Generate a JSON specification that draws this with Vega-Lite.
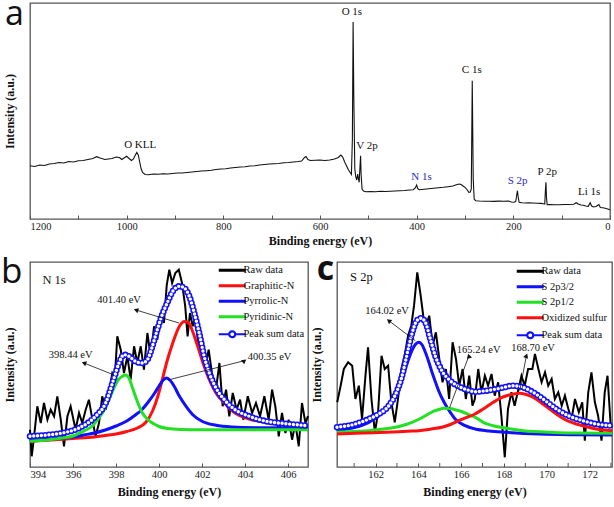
{
  "$schema": "https://vega.github.io/schema/vega-lite/v6.json",
  "padding": {"left": 0, "top": -3, "right": 0, "bottom": 0},
  "bounds": "flush",
  "spacing": 43,
  "background": "white",
  "config": {
    "view": {"stroke": "#555555", "strokeWidth": 1.3},
    "axis": {"grid": false, "domain": false, "labelOverlap": false, "labelFont": "Liberation Serif, Times New Roman, serif", "labelFontSize": 10.5, "labelColor": "#222222", "titleFont": "Liberation Serif, Times New Roman, serif", "titleFontSize": 12, "titleFontWeight": "bold", "titleColor": "#111111", "tickColor": "#555555", "tickSize": -4, "tickWidth": 1},
    "legend": {"orient": "top-right", "offset": 3, "padding": 0, "symbolType": "stroke", "symbolSize": 729, "symbolStrokeWidth": 3, "labelFont": "Liberation Serif, Times New Roman, serif", "labelFontSize": 10.5, "labelColor": "#111111", "rowPadding": 2.5, "labelOffset": 6},
    "text": {"font": "Liberation Serif, Times New Roman, serif", "fontSize": 10.5, "color": "#111111"}
  },
  "datasets": {
    "survey": [
      {"e":1200,"i":53.3},{"e":1190,"i":52.5},{"e":1180,"i":54},{"e":1170,"i":53.5},{"e":1160,"i":55},{"e":1150,"i":55.5},{"e":1140,"i":56.5},{"e":1130,"i":56},{"e":1120,"i":57.5},{"e":1110,"i":57},{"e":1100,"i":58.3},{"e":1090,"i":58.5},{"e":1080,"i":59.5},{"e":1070,"i":60.5},{"e":1062,"i":62.3},{"e":1055,"i":61},{"e":1045,"i":59.5},{"e":1038,"i":60},{"e":1030,"i":60.5},{"e":1022,"i":62},{"e":1015,"i":61.5},{"e":1010,"i":59.5},{"e":1004,"i":61.5},{"e":1000,"i":62.7},{"e":995,"i":60.5},{"e":990,"i":58.5},{"e":986,"i":60},{"e":982,"i":64},{"e":979,"i":66.7},{"e":976,"i":64},{"e":973,"i":57},{"e":970,"i":50},{"e":967,"i":46.5},{"e":962,"i":44.5},{"e":955,"i":44.3},{"e":945,"i":45},{"e":935,"i":44.7},{"e":925,"i":45.3},{"e":915,"i":45},{"e":905,"i":45.5},{"e":895,"i":46},{"e":885,"i":46},{"e":875,"i":46.5},{"e":865,"i":47},{"e":855,"i":47.5},{"e":845,"i":48},{"e":835,"i":48.3},{"e":825,"i":48.7},{"e":815,"i":49.5},{"e":805,"i":50},{"e":795,"i":50.3},{"e":785,"i":51},{"e":775,"i":51.5},{"e":765,"i":52},{"e":755,"i":52.3},{"e":745,"i":53},{"e":735,"i":53.3},{"e":725,"i":54},{"e":715,"i":54.5},{"e":705,"i":55},{"e":695,"i":55.3},{"e":685,"i":55.5},{"e":675,"i":56.3},{"e":665,"i":56.5},{"e":655,"i":57},{"e":645,"i":57.5},{"e":638,"i":58},{"e":632,"i":61.5},{"e":629,"i":62.5},{"e":625,"i":59.5},{"e":620,"i":58.5},{"e":610,"i":58.7},{"e":600,"i":59},{"e":590,"i":58.5},{"e":580,"i":59},{"e":570,"i":60},{"e":562,"i":61.5},{"e":557,"i":64},{"e":553,"i":62},{"e":549,"i":57},{"e":545,"i":53},{"e":541,"i":49},{"e":537,"i":46},{"e":535,"i":44.5},{"e":533,"i":80},{"e":531.5,"i":197},{"e":530,"i":120},{"e":528,"i":50},{"e":526,"i":42},{"e":524,"i":39},{"e":522,"i":45},{"e":520.5,"i":40},{"e":519,"i":36.7},{"e":517,"i":55},{"e":516,"i":63.3},{"e":515,"i":45},{"e":513,"i":30},{"e":510,"i":28},{"e":505,"i":27.3},{"e":495,"i":27.5},{"e":485,"i":27.3},{"e":475,"i":27.7},{"e":465,"i":27.5},{"e":455,"i":27.8},{"e":445,"i":28},{"e":435,"i":28.3},{"e":425,"i":28.5},{"e":415,"i":29},{"e":407,"i":29.3},{"e":403,"i":31},{"e":400,"i":34},{"e":398,"i":30.5},{"e":395,"i":29.3},{"e":385,"i":29.8},{"e":375,"i":30.2},{"e":365,"i":30.7},{"e":355,"i":31.3},{"e":345,"i":31.7},{"e":335,"i":32.3},{"e":325,"i":33},{"e":318,"i":34.3},{"e":312,"i":35},{"e":308,"i":34.5},{"e":304,"i":33},{"e":300,"i":31.7},{"e":296,"i":29.5},{"e":292,"i":26.7},{"e":289,"i":27},{"e":287,"i":30},{"e":285,"i":138.3},{"e":283,"i":40},{"e":281,"i":20},{"e":278,"i":18.3},{"e":270,"i":18},{"e":260,"i":17.8},{"e":250,"i":17.7},{"e":240,"i":17.6},{"e":230,"i":17.9},{"e":220,"i":17.8},{"e":210,"i":18},{"e":204,"i":17},{"e":198,"i":16.7},{"e":195,"i":17.5},{"e":193,"i":24},{"e":191.5,"i":28.3},{"e":190,"i":22},{"e":188,"i":16.7},{"e":182,"i":16.3},{"e":175,"i":16},{"e":168,"i":16.3},{"e":160,"i":16},{"e":150,"i":15.7},{"e":143,"i":15.6},{"e":138,"i":15.3},{"e":135,"i":15},{"e":133.5,"i":30},{"e":132.5,"i":36.7},{"e":131.5,"i":22},{"e":130,"i":14.3},{"e":125,"i":14.5},{"e":115,"i":14.3},{"e":105,"i":14.3},{"e":95,"i":14.5},{"e":85,"i":14.5},{"e":75,"i":14.7},{"e":70,"i":16.3},{"e":66,"i":15},{"e":60,"i":14},{"e":55,"i":13.7},{"e":50,"i":13},{"e":45,"i":12.7},{"e":41,"i":16.3},{"e":38,"i":13},{"e":34,"i":12},{"e":29,"i":12.5},{"e":23,"i":14.5},{"e":20,"i":11.5},{"e":15,"i":11.3},{"e":10,"i":10.7},{"e":5,"i":10},{"e":0,"i":9.3}
    ],
    "survey_labels": [
      {"e":972,"i":74,"t":"O KLL"},{"e":534,"i":207,"t":"O 1s"},{"e":503,"i":72.7,"t":"V 2p"},{"e":390,"i":42.3,"t":"N 1s"},{"e":286,"i":149,"t":"C 1s"},{"e":191,"i":38.3,"t":"S 2p"},{"e":130,"i":47.3,"t":"P 2p"},{"e":43,"i":27.3,"t":"Li 1s"}
    ],
    "panel_a": [{"e":1251.7,"i":194,"t":"a"}],
    "panel_b": [{"e":392.65,"i":185,"t":"b"}],
    "panel_c": [{"e":159.25,"i":185,"t":"c"}],
    "c_minor": [{"e":161,"y0":-2,"y1":2},{"e":163,"y0":-2,"y1":2},{"e":165,"y0":-2,"y1":2},{"e":167,"y0":-2,"y1":2},{"e":169,"y0":-2,"y1":2},{"e":171,"y0":-2,"y1":2},{"e":173,"y0":-2,"y1":2}],
    "n_raw": [
      {"e":394.0,"i":38.3},{"e":394.08,"i":11.7},{"e":394.19,"i":31.7},{"e":394.34,"i":61.7},{"e":394.5,"i":45},{"e":394.65,"i":65},{"e":394.81,"i":48.3},{"e":394.96,"i":58.3},{"e":395.12,"i":51.7},{"e":395.27,"i":71.7},{"e":395.43,"i":48.3},{"e":395.58,"i":21.7},{"e":395.74,"i":51.7},{"e":395.89,"i":61.7},{"e":396.12,"i":38.3},{"e":396.28,"i":55},{"e":396.43,"i":45},{"e":396.59,"i":58.3},{"e":396.74,"i":68.3},{"e":396.9,"i":48.3},{"e":397.05,"i":31.7},{"e":397.21,"i":45},{"e":397.36,"i":71.7},{"e":397.52,"i":58.3},{"e":397.67,"i":75},{"e":397.83,"i":95},{"e":397.95,"i":91.7},{"e":398.06,"i":131.7},{"e":398.22,"i":118.3},{"e":398.37,"i":95},{"e":398.53,"i":111.7},{"e":398.68,"i":88.3},{"e":398.84,"i":121.7},{"e":398.99,"i":105},{"e":399.15,"i":121.7},{"e":399.3,"i":98.3},{"e":399.46,"i":135},{"e":399.61,"i":111.7},{"e":399.77,"i":141.7},{"e":399.92,"i":128.3},{"e":400.08,"i":155},{"e":400.23,"i":145},{"e":400.36,"i":183},{"e":400.48,"i":198.3},{"e":400.61,"i":185},{"e":400.76,"i":195},{"e":400.92,"i":198.3},{"e":401.07,"i":185},{"e":401.22,"i":161.7},{"e":401.33,"i":131.7},{"e":401.44,"i":155},{"e":401.57,"i":141.7},{"e":401.69,"i":151.7},{"e":401.85,"i":118.3},{"e":402.0,"i":128.3},{"e":402.16,"i":101.7},{"e":402.31,"i":118.3},{"e":402.46,"i":95},{"e":402.65,"i":78.3},{"e":402.81,"i":105},{"e":402.96,"i":61.7},{"e":403.12,"i":78.3},{"e":403.27,"i":51.7},{"e":403.43,"i":75},{"e":403.61,"i":58.3},{"e":403.77,"i":68.3},{"e":403.92,"i":48.3},{"e":404.13,"i":71.7},{"e":404.33,"i":55},{"e":404.51,"i":65},{"e":404.7,"i":51.7},{"e":404.9,"i":71.7},{"e":405.1,"i":48.3},{"e":405.26,"i":78.3},{"e":405.41,"i":61.7},{"e":405.57,"i":31.7},{"e":405.72,"i":55},{"e":405.88,"i":35},{"e":406.03,"i":48.3},{"e":406.19,"i":28.3},{"e":406.34,"i":45},{"e":406.5,"i":21.7},{"e":406.65,"i":65},{"e":406.81,"i":45},{"e":406.93,"i":52}
    ],
    "n_fit": [
      {"s":"Graphitic-N","e":394.0,"i":26.7},{"s":"Graphitic-N","e":395.0,"i":28},{"s":"Graphitic-N","e":396.0,"i":29.5},{"s":"Graphitic-N","e":397.0,"i":31},{"s":"Graphitic-N","e":397.5,"i":32.5},{"s":"Graphitic-N","e":398.0,"i":34},{"s":"Graphitic-N","e":398.5,"i":36.5},{"s":"Graphitic-N","e":399.0,"i":40},{"s":"Graphitic-N","e":399.4,"i":46},{"s":"Graphitic-N","e":399.7,"i":57},{"s":"Graphitic-N","e":399.95,"i":72},{"s":"Graphitic-N","e":400.15,"i":88},{"s":"Graphitic-N","e":400.35,"i":105},{"s":"Graphitic-N","e":400.64,"i":125},{"s":"Graphitic-N","e":400.95,"i":141.7},{"s":"Graphitic-N","e":401.18,"i":146.5},{"s":"Graphitic-N","e":401.35,"i":146},{"s":"Graphitic-N","e":401.5,"i":140},{"s":"Graphitic-N","e":401.8,"i":121.7},{"s":"Graphitic-N","e":402.1,"i":101.7},{"s":"Graphitic-N","e":402.34,"i":88.3},{"s":"Graphitic-N","e":402.65,"i":75},{"s":"Graphitic-N","e":403.04,"i":65},{"s":"Graphitic-N","e":403.43,"i":56.7},{"s":"Graphitic-N","e":404.2,"i":49},{"s":"Graphitic-N","e":405.0,"i":45.7},{"s":"Graphitic-N","e":405.9,"i":43.3},{"s":"Graphitic-N","e":406.93,"i":41.7},
      {"s":"Pyrrolic-N","e":394.0,"i":27.5},{"s":"Pyrrolic-N","e":395.0,"i":29},{"s":"Pyrrolic-N","e":396.0,"i":31},{"s":"Pyrrolic-N","e":396.5,"i":33},{"s":"Pyrrolic-N","e":397.0,"i":35},{"s":"Pyrrolic-N","e":397.5,"i":38},{"s":"Pyrrolic-N","e":398.0,"i":42},{"s":"Pyrrolic-N","e":398.5,"i":47},{"s":"Pyrrolic-N","e":398.9,"i":53},{"s":"Pyrrolic-N","e":399.2,"i":58.3},{"s":"Pyrrolic-N","e":399.5,"i":66},{"s":"Pyrrolic-N","e":399.8,"i":75},{"s":"Pyrrolic-N","e":400.0,"i":82},{"s":"Pyrrolic-N","e":400.2,"i":88},{"s":"Pyrrolic-N","e":400.35,"i":90},{"s":"Pyrrolic-N","e":400.5,"i":88},{"s":"Pyrrolic-N","e":400.7,"i":82},{"s":"Pyrrolic-N","e":400.95,"i":71.7},{"s":"Pyrrolic-N","e":401.26,"i":61.7},{"s":"Pyrrolic-N","e":401.57,"i":53.3},{"s":"Pyrrolic-N","e":402.0,"i":46.7},{"s":"Pyrrolic-N","e":402.65,"i":42.7},{"s":"Pyrrolic-N","e":403.4,"i":41},{"s":"Pyrrolic-N","e":404.5,"i":40.3},{"s":"Pyrrolic-N","e":406.93,"i":40},
      {"s":"Pyridinic-N","e":394.0,"i":26.7},{"s":"Pyridinic-N","e":394.5,"i":27.5},{"s":"Pyridinic-N","e":395.0,"i":28.5},{"s":"Pyridinic-N","e":395.5,"i":30},{"s":"Pyridinic-N","e":396.0,"i":32},{"s":"Pyridinic-N","e":396.3,"i":35},{"s":"Pyridinic-N","e":396.6,"i":38},{"s":"Pyridinic-N","e":396.9,"i":42},{"s":"Pyridinic-N","e":397.2,"i":50},{"s":"Pyridinic-N","e":397.45,"i":58},{"s":"Pyridinic-N","e":397.7,"i":70},{"s":"Pyridinic-N","e":397.9,"i":80},{"s":"Pyridinic-N","e":398.1,"i":88},{"s":"Pyridinic-N","e":398.3,"i":91.7},{"s":"Pyridinic-N","e":398.44,"i":93},{"s":"Pyridinic-N","e":398.6,"i":90},{"s":"Pyridinic-N","e":398.8,"i":78},{"s":"Pyridinic-N","e":399.0,"i":66},{"s":"Pyridinic-N","e":399.2,"i":56},{"s":"Pyridinic-N","e":399.45,"i":49},{"s":"Pyridinic-N","e":399.7,"i":45},{"s":"Pyridinic-N","e":400.0,"i":41.5},{"s":"Pyridinic-N","e":400.4,"i":39.5},{"s":"Pyridinic-N","e":401.0,"i":38.6},{"s":"Pyridinic-N","e":402.0,"i":38.3},{"s":"Pyridinic-N","e":404.0,"i":38.3},{"s":"Pyridinic-N","e":406.93,"i":38.3}
    ],
    "n_sum": [
      {"e":394.0,"i":31.7},{"e":394.8,"i":33},{"e":395.5,"i":35},{"e":396.28,"i":40},{"e":397.05,"i":51.7},{"e":397.52,"i":65},{"e":397.91,"i":90},{"e":398.14,"i":105},{"e":398.37,"i":113.3},{"e":398.6,"i":111.7},{"e":398.9,"i":106.7},{"e":399.22,"i":105},{"e":399.46,"i":108.3},{"e":399.69,"i":121.7},{"e":399.92,"i":138.3},{"e":400.15,"i":153.3},{"e":400.38,"i":165},{"e":400.64,"i":176.7},{"e":400.95,"i":181.7},{"e":401.18,"i":180},{"e":401.41,"i":171.7},{"e":401.64,"i":155},{"e":401.87,"i":135},{"e":402.1,"i":111.7},{"e":402.34,"i":95},{"e":402.65,"i":80},{"e":403.04,"i":68.3},{"e":403.43,"i":60},{"e":404.2,"i":51.7},{"e":405.0,"i":46.7},{"e":405.9,"i":44.3},{"e":406.93,"i":42.3}
    ],
    "n_text": [
      {"e":398.14,"i":168,"t":"401.40 eV"},{"e":395.89,"i":113.3,"t":"398.44 eV"},{"e":405.14,"i":111,"t":"400.35 eV"}
    ],
    "n_arrow": [
      {"t":"401.40 eV","e":400.93,"i":145,"e2":398.93,"i2":158},{"t":"398.44 eV","e":397.91,"i":93,"e2":396.51,"i2":105},{"t":"400.35 eV","e":400.42,"i":88,"e2":403.91,"i2":107}
    ],
    "n_name": [{"e":395.12,"i":188.3,"t":"N 1s"}],
    "s_raw": [
      {"e":160.21,"i":62.7},{"e":160.37,"i":79.3},{"e":160.52,"i":96},{"e":160.72,"i":102.7},{"e":160.91,"i":99.3},{"e":161.06,"i":66},{"e":161.22,"i":79.3},{"e":161.37,"i":46},{"e":161.53,"i":89.3},{"e":161.65,"i":117.7},{"e":161.81,"i":66},{"e":161.97,"i":32.7},{"e":162.12,"i":52.7},{"e":162.28,"i":109.3},{"e":162.43,"i":96},{"e":162.59,"i":99.3},{"e":162.74,"i":62.7},{"e":162.9,"i":42.7},{"e":163.05,"i":66},{"e":163.21,"i":96},{"e":163.36,"i":109.3},{"e":163.52,"i":129.3},{"e":163.67,"i":139.3},{"e":163.8,"i":159.3},{"e":163.95,"i":192.7},{"e":164.11,"i":169.3},{"e":164.23,"i":149.3},{"e":164.36,"i":139.3},{"e":164.51,"i":149.3},{"e":164.67,"i":119.3},{"e":164.82,"i":132.7},{"e":164.98,"i":106},{"e":165.13,"i":82.7},{"e":165.29,"i":96},{"e":165.44,"i":66},{"e":165.6,"i":122.7},{"e":165.76,"i":106},{"e":165.91,"i":79.3},{"e":166.07,"i":96},{"e":166.22,"i":66},{"e":166.38,"i":89.3},{"e":166.53,"i":59.3},{"e":166.64,"i":66},{"e":166.8,"i":96},{"e":166.95,"i":72.7},{"e":167.11,"i":89.3},{"e":167.26,"i":79.3},{"e":167.42,"i":91},{"e":167.57,"i":69.3},{"e":167.73,"i":82.7},{"e":167.88,"i":49.3},{"e":168.04,"i":7.7},{"e":168.19,"i":56},{"e":168.35,"i":72.7},{"e":168.5,"i":59.3},{"e":168.66,"i":74.3},{"e":168.82,"i":89.3},{"e":168.97,"i":79.3},{"e":169.13,"i":96},{"e":169.33,"i":96},{"e":169.45,"i":111},{"e":169.61,"i":96},{"e":169.76,"i":82.7},{"e":169.92,"i":92.7},{"e":170.07,"i":79.3},{"e":170.23,"i":86},{"e":170.38,"i":66},{"e":170.54,"i":72.7},{"e":170.7,"i":59.3},{"e":170.85,"i":69.3},{"e":171.01,"i":56},{"e":171.16,"i":46},{"e":171.32,"i":66},{"e":171.5,"i":52.7},{"e":171.66,"i":62.7},{"e":171.78,"i":24.3},{"e":171.94,"i":72.7},{"e":172.09,"i":92.7},{"e":172.25,"i":62.7},{"e":172.4,"i":49.3},{"e":172.56,"i":24.3},{"e":172.71,"i":72.7},{"e":172.84,"i":89.3},{"e":172.99,"i":39.3}
    ],
    "s_fit": [
      {"s":"S 2p3/2","e":160.2,"i":34.3},{"s":"S 2p3/2","e":160.6,"i":35.8},{"s":"S 2p3/2","e":161.06,"i":37.7},{"s":"S 2p3/2","e":161.4,"i":40},{"s":"S 2p3/2","e":161.69,"i":42.7},{"s":"S 2p3/2","e":162.15,"i":49.3},{"s":"S 2p3/2","e":162.62,"i":59.3},{"s":"S 2p3/2","e":163.01,"i":74.3},{"s":"S 2p3/2","e":163.2,"i":84},{"s":"S 2p3/2","e":163.39,"i":96},{"s":"S 2p3/2","e":163.55,"i":106},{"s":"S 2p3/2","e":163.7,"i":114.3},{"s":"S 2p3/2","e":163.86,"i":120.5},{"s":"S 2p3/2","e":164.02,"i":122.7},{"s":"S 2p3/2","e":164.18,"i":120},{"s":"S 2p3/2","e":164.33,"i":112.7},{"s":"S 2p3/2","e":164.49,"i":103},{"s":"S 2p3/2","e":164.64,"i":92.7},{"s":"S 2p3/2","e":164.8,"i":83},{"s":"S 2p3/2","e":164.95,"i":74.3},{"s":"S 2p3/2","e":165.15,"i":65},{"s":"S 2p3/2","e":165.34,"i":57.7},{"s":"S 2p3/2","e":165.55,"i":51},{"s":"S 2p3/2","e":165.72,"i":46},{"s":"S 2p3/2","e":166.19,"i":39.3},{"s":"S 2p3/2","e":166.66,"i":36},{"s":"S 2p3/2","e":167.3,"i":34},{"s":"S 2p3/2","e":168.12,"i":32.7},{"s":"S 2p3/2","e":169.67,"i":31},{"s":"S 2p3/2","e":171.22,"i":30.3},{"s":"S 2p3/2","e":173.05,"i":30},
      {"s":"S 2p1/2","e":160.2,"i":32.7},{"s":"S 2p1/2","e":161.0,"i":33.5},{"s":"S 2p1/2","e":161.69,"i":34.3},{"s":"S 2p1/2","e":162.3,"i":35.8},{"s":"S 2p1/2","e":162.93,"i":37.7},{"s":"S 2p1/2","e":163.3,"i":39.8},{"s":"S 2p1/2","e":163.7,"i":42.7},{"s":"S 2p1/2","e":164.0,"i":45.5},{"s":"S 2p1/2","e":164.33,"i":49.3},{"s":"S 2p1/2","e":164.6,"i":52.5},{"s":"S 2p1/2","e":164.79,"i":54.3},{"s":"S 2p1/2","e":165.0,"i":55.8},{"s":"S 2p1/2","e":165.18,"i":56.7},{"s":"S 2p1/2","e":165.45,"i":56.4},{"s":"S 2p1/2","e":165.72,"i":55.3},{"s":"S 2p1/2","e":165.95,"i":54},{"s":"S 2p1/2","e":166.19,"i":52},{"s":"S 2p1/2","e":166.45,"i":49.5},{"s":"S 2p1/2","e":166.66,"i":47.7},{"s":"S 2p1/2","e":167.03,"i":42.7},{"s":"S 2p1/2","e":167.5,"i":39.3},{"s":"S 2p1/2","e":168.12,"i":36.7},{"s":"S 2p1/2","e":168.89,"i":34.3},{"s":"S 2p1/2","e":169.67,"i":33.3},{"s":"S 2p1/2","e":171.22,"i":32},{"s":"S 2p1/2","e":173.05,"i":31.7},
      {"s":"Oxidized sulfur","e":160.2,"i":31},{"s":"Oxidized sulfur","e":161.5,"i":32},{"s":"Oxidized sulfur","e":162.5,"i":32.7},{"s":"Oxidized sulfur","e":163.5,"i":33.8},{"s":"Oxidized sulfur","e":164.02,"i":34.3},{"s":"Oxidized sulfur","e":164.6,"i":36},{"s":"Oxidized sulfur","e":165.1,"i":37.7},{"s":"Oxidized sulfur","e":165.5,"i":40.5},{"s":"Oxidized sulfur","e":165.88,"i":44.3},{"s":"Oxidized sulfur","e":166.2,"i":47.2},{"s":"Oxidized sulfur","e":166.6,"i":50.5},{"s":"Oxidized sulfur","e":167.03,"i":56},{"s":"Oxidized sulfur","e":167.5,"i":62.7},{"s":"Oxidized sulfur","e":167.8,"i":66.5},{"s":"Oxidized sulfur","e":168.12,"i":69.3},{"s":"Oxidized sulfur","e":168.45,"i":71},{"s":"Oxidized sulfur","e":168.74,"i":71.7},{"s":"Oxidized sulfur","e":169.0,"i":70.8},{"s":"Oxidized sulfur","e":169.28,"i":68.7},{"s":"Oxidized sulfur","e":169.55,"i":65.3},{"s":"Oxidized sulfur","e":169.82,"i":61},{"s":"Oxidized sulfur","e":170.15,"i":55.8},{"s":"Oxidized sulfur","e":170.45,"i":51},{"s":"Oxidized sulfur","e":170.75,"i":46.8},{"s":"Oxidized sulfur","e":171.07,"i":43.3},{"s":"Oxidized sulfur","e":171.38,"i":41},{"s":"Oxidized sulfur","e":171.69,"i":39.3},{"s":"Oxidized sulfur","e":172.31,"i":36},{"s":"Oxidized sulfur","e":173.05,"i":34.3}
    ],
    "s_sum": [
      {"e":160.2,"i":37.7},{"e":161.06,"i":41},{"e":161.69,"i":46},{"e":162.15,"i":51},{"e":162.62,"i":59.3},{"e":163.01,"i":74.3},{"e":163.2,"i":86},{"e":163.39,"i":102.7},{"e":163.55,"i":118},{"e":163.7,"i":131},{"e":163.93,"i":144.3},{"e":164.13,"i":146.7},{"e":164.33,"i":142.7},{"e":164.56,"i":126},{"e":164.79,"i":109.3},{"e":165.1,"i":94.3},{"e":165.49,"i":84.3},{"e":165.88,"i":78.7},{"e":166.27,"i":75.3},{"e":166.66,"i":73.3},{"e":167.18,"i":74.3},{"e":167.81,"i":76.7},{"e":168.43,"i":79.3},{"e":168.89,"i":77.7},{"e":169.36,"i":72.7},{"e":169.82,"i":66},{"e":170.45,"i":56},{"e":171.07,"i":48.7},{"e":171.69,"i":44.3},{"e":172.31,"i":41},{"e":173.05,"i":39.3}
    ],
    "s_text": [
      {"e":162.54,"i":154.3,"t":"164.02 eV"},{"e":166.82,"i":114.7,"t":"165.24 eV"},{"e":169.36,"i":116.7,"t":"168.70 eV"}
    ],
    "s_arrow": [
      {"t":"164.02 eV","e":163.86,"i":124.3,"e2":162.62,"i2":144.3},{"t":"165.24 eV","e":165.46,"i":57.3,"e2":166.36,"i2":109},{"t":"168.70 eV","e":168.74,"i":74.3,"e2":169.05,"i2":109.3}
    ],
    "s_name": [{"e":161.34,"i":187.7,"t":"S 2p"}]
  },
  "vconcat": [
    {
      "width": 580,
      "height": 216,
      "layer": [
        {
          "data": {"name": "survey"},
          "mark": {"type": "line", "color": "#111111", "strokeWidth": 1.1},
          "encoding": {
            "x": {"field": "e", "type": "quantitative", "scale": {"domain": [0, 1200], "reverse": true, "nice": false, "zero": false}, "axis": {"title": "Binding energy (eV)", "values": [0,100,200,300,400,500,600,700,800,900,1000,1100,1200], "labelExpr": "datum.value % 200 === 0 ? datum.label : ''", "format": "d", "labelOverlap": false, "labelPadding": 6, "titlePadding": 4}},
            "y": {"field": "i", "type": "quantitative", "scale": {"domain": [0, 216], "nice": false, "zero": false}, "axis": {"title": "Intensity (a.u.)", "labels": false, "ticks": false, "titlePadding": 14}}
          }
        },
        {
          "data": {"name": "survey_labels"},
          "mark": {"type": "text", "fontSize": 11},
          "encoding": {
            "x": {"field": "e", "type": "quantitative"},
            "y": {"field": "i", "type": "quantitative"},
            "text": {"field": "t"},
            "color": {"condition": {"test": "datum.t === 'N 1s' || datum.t === 'S 2p'", "value": "#2a2ac0"}, "value": "#111111"}
          }
        },
        {
          "data": {"name": "panel_a"},
          "mark": {"type": "text", "font": "Open Sans", "fontSize": 34, "align": "left", "baseline": "alphabetic", "clip": false},
          "encoding": {
            "x": {"field": "e", "type": "quantitative"},
            "y": {"field": "i", "type": "quantitative"},
            "text": {"field": "t"}
          }
        }
      ]
    },
    {
      "hconcat": [
        {
          "width": 278,
          "height": 205,
          "layer": [
            {
              "data": {"name": "n_raw"},
              "mark": {"type": "line", "strokeWidth": 2},
              "encoding": {
                "x": {"field": "e", "type": "quantitative", "scale": {"domain": [394, 406.93], "nice": false, "zero": false}, "axis": {"title": "Binding energy (eV)", "values": [394,395,396,397,398,399,400,401,402,403,404,405,406], "labelExpr": "datum.value % 2 === 0 ? datum.label : ''", "labelOverlap": false, "labelPadding": 6, "titlePadding": 7}},
                "y": {"field": "i", "type": "quantitative", "scale": {"domain": [1, 206], "nice": false, "zero": false}, "axis": {"title": "Intensity (a.u.)", "labels": false, "ticks": false, "titlePadding": 14}},
                "color": {"datum": "Raw data", "type": "nominal", "title": null, "scale": {"domain": ["Raw data", "Graphitic-N", "Pyrrolic-N", "Pyridinic-N", "Peak sum data"], "range": ["#000000", "#ff1010", "#1010ff", "#22e022", "#1010ff"]}, "legend": {"title": null, "encode": {"symbols": {"update": {"shape": {"signal": "datum.value === 'Peak sum data' ? 'M-1,0L-0.22,0M0.22,0L1,0M-0.22,0A0.22,0.22,0,1,1,0.22,0A0.22,0.22,0,1,1,-0.22,0Z' : 'stroke'"}, "fill": {"signal": "datum.value === 'Peak sum data' ? '#ffffff' : 'transparent'"}, "strokeDash": {"value": [1, 0]}, "strokeWidth": {"signal": "datum.value === 'Peak sum data' ? 2.2 : 3"}}}}}}
              }
            },
            {
              "data": {"name": "n_fit"},
              "mark": {"type": "line", "strokeWidth": 3, "interpolate": "monotone"},
              "encoding": {
                "x": {"field": "e", "type": "quantitative"},
                "y": {"field": "i", "type": "quantitative"},
                "color": {"field": "s", "type": "nominal", "title": null},
                "detail": {"field": "s"}
              }
            },
            {
              "data": {"name": "n_sum"},
              "mark": {"type": "line", "strokeWidth": 6.5, "strokeDash": [0, 3.8], "strokeCap": "round", "interpolate": "monotone"},
              "encoding": {
                "x": {"field": "e", "type": "quantitative"},
                "y": {"field": "i", "type": "quantitative"},
                "color": {"datum": "Peak sum data", "type": "nominal", "title": null}
              }
            },
            {
              "data": {"name": "n_sum"},
              "mark": {"type": "line", "strokeWidth": 3.4, "strokeDash": [0, 3.8], "strokeCap": "round", "interpolate": "monotone", "stroke": "#ffffff"},
              "encoding": {
                "x": {"field": "e", "type": "quantitative"},
                "y": {"field": "i", "type": "quantitative"}
              }
            },
            {
              "data": {"name": "n_arrow"},
              "mark": {"type": "rule", "color": "#111111", "strokeWidth": 0.8},
              "encoding": {
                "x": {"field": "e", "type": "quantitative"},
                "y": {"field": "i", "type": "quantitative"},
                "x2": {"field": "e2"},
                "y2": {"field": "i2"}
              }
            },
            {
              "data": {"name": "n_arrow"},
              "mark": {"type": "point", "shape": "triangle-right", "filled": true, "size": 28, "color": "#111111", "opacity": 1},
              "encoding": {
                "x": {"field": "e2", "type": "quantitative"},
                "y": {"field": "i2", "type": "quantitative"},
                "angle": {"field": "t", "type": "nominal", "scale": {"domain": ["401.40 eV", "398.44 eV", "400.35 eV"], "range": [197, 202, 346]}, "legend": null}
              }
            },
            {
              "data": {"name": "n_text"},
              "mark": {"type": "text", "fontSize": 10.5},
              "encoding": {
                "x": {"field": "e", "type": "quantitative"},
                "y": {"field": "i", "type": "quantitative"},
                "text": {"field": "t"}
              }
            },
            {
              "data": {"name": "n_name"},
              "mark": {"type": "text", "fontSize": 12.5},
              "encoding": {
                "x": {"field": "e", "type": "quantitative"},
                "y": {"field": "i", "type": "quantitative"},
                "text": {"field": "t"}
              }
            },
            {
              "data": {"name": "panel_b"},
              "mark": {"type": "text", "font": "Open Sans", "fontSize": 35, "align": "left", "baseline": "alphabetic", "clip": false},
              "encoding": {
                "x": {"field": "e", "type": "quantitative"},
                "y": {"field": "i", "type": "quantitative"},
                "text": {"field": "t"}
              }
            }
          ]
        },
        {
          "width": 275,
          "height": 205,
          "layer": [
            {
              "data": {"name": "s_raw"},
              "mark": {"type": "line", "strokeWidth": 2},
              "encoding": {
                "x": {"field": "e", "type": "quantitative", "scale": {"domain": [160.2, 173.05], "nice": false, "zero": false}, "axis": {"title": "Binding energy (eV)", "values": [162, 164, 166, 168, 170, 172], "format": "d", "labelOverlap": false, "labelFlush": false, "labelPadding": 6, "titlePadding": 7}},
                "y": {"field": "i", "type": "quantitative", "scale": {"domain": [-2, 203], "nice": false, "zero": false}, "axis": {"title": "Intensity (a.u.)", "labels": false, "ticks": false, "titlePadding": 14}},
                "color": {"datum": "Raw data", "type": "nominal", "title": null, "scale": {"domain": ["Raw data", "S 2p3/2", "S 2p1/2", "Oxidized sulfur", "Peak sum data"], "range": ["#000000", "#1010ff", "#22e022", "#ff1010", "#1010ff"]}, "legend": {"title": null, "offset": 4, "encode": {"symbols": {"update": {"shape": {"signal": "datum.value === 'Peak sum data' ? 'M-1,0L-0.22,0M0.22,0L1,0M-0.22,0A0.22,0.22,0,1,1,0.22,0A0.22,0.22,0,1,1,-0.22,0Z' : 'stroke'"}, "fill": {"signal": "datum.value === 'Peak sum data' ? '#ffffff' : 'transparent'"}, "strokeDash": {"value": [1, 0]}, "strokeWidth": {"signal": "datum.value === 'Peak sum data' ? 2.2 : 3"}}}}}}
              }
            },
            {
              "data": {"name": "c_minor"},
              "mark": {"type": "rule", "color": "#555555", "strokeWidth": 1},
              "encoding": {
                "x": {"field": "e", "type": "quantitative"},
                "y": {"field": "y0", "type": "quantitative"},
                "y2": {"field": "y1"}
              }
            },
            {
              "data": {"name": "s_fit"},
              "mark": {"type": "line", "strokeWidth": 3, "interpolate": "monotone"},
              "encoding": {
                "x": {"field": "e", "type": "quantitative"},
                "y": {"field": "i", "type": "quantitative"},
                "color": {"field": "s", "type": "nominal", "title": null},
                "detail": {"field": "s"}
              }
            },
            {
              "data": {"name": "s_sum"},
              "mark": {"type": "line", "strokeWidth": 6.5, "strokeDash": [0, 3.8], "strokeCap": "round", "interpolate": "monotone"},
              "encoding": {
                "x": {"field": "e", "type": "quantitative"},
                "y": {"field": "i", "type": "quantitative"},
                "color": {"datum": "Peak sum data", "type": "nominal", "title": null}
              }
            },
            {
              "data": {"name": "s_sum"},
              "mark": {"type": "line", "strokeWidth": 3.4, "strokeDash": [0, 3.8], "strokeCap": "round", "interpolate": "monotone", "stroke": "#ffffff"},
              "encoding": {
                "x": {"field": "e", "type": "quantitative"},
                "y": {"field": "i", "type": "quantitative"}
              }
            },
            {
              "data": {"name": "s_arrow"},
              "mark": {"type": "rule", "color": "#111111", "strokeWidth": 0.8},
              "encoding": {
                "x": {"field": "e", "type": "quantitative"},
                "y": {"field": "i", "type": "quantitative"},
                "x2": {"field": "e2"},
                "y2": {"field": "i2"}
              }
            },
            {
              "data": {"name": "s_arrow"},
              "mark": {"type": "point", "shape": "triangle-right", "filled": true, "size": 28, "color": "#111111", "opacity": 1},
              "encoding": {
                "x": {"field": "e2", "type": "quantitative"},
                "y": {"field": "i2", "type": "quantitative"},
                "angle": {"field": "t", "type": "nominal", "scale": {"domain": ["164.02 eV", "165.24 eV", "168.70 eV"], "range": [217, 291, 281]}, "legend": null}
              }
            },
            {
              "data": {"name": "s_text"},
              "mark": {"type": "text", "fontSize": 10.5},
              "encoding": {
                "x": {"field": "e", "type": "quantitative"},
                "y": {"field": "i", "type": "quantitative"},
                "text": {"field": "t"}
              }
            },
            {
              "data": {"name": "s_name"},
              "mark": {"type": "text", "fontSize": 12.5},
              "encoding": {
                "x": {"field": "e", "type": "quantitative"},
                "y": {"field": "i", "type": "quantitative"},
                "text": {"field": "t"}
              }
            },
            {
              "data": {"name": "panel_c"},
              "mark": {"type": "text", "font": "Open Sans", "fontSize": 34, "fontWeight": "bold", "align": "left", "baseline": "alphabetic", "clip": false},
              "encoding": {
                "x": {"field": "e", "type": "quantitative"},
                "y": {"field": "i", "type": "quantitative"},
                "text": {"field": "t"}
              }
            }
          ]
        }
      ],
      "spacing": 29,
      "bounds": "flush",
      "resolve": {"scale": {"color": "independent", "x": "independent", "y": "independent", "angle": "independent"}, "legend": {"color": "independent"}}
    }
  ]
}
